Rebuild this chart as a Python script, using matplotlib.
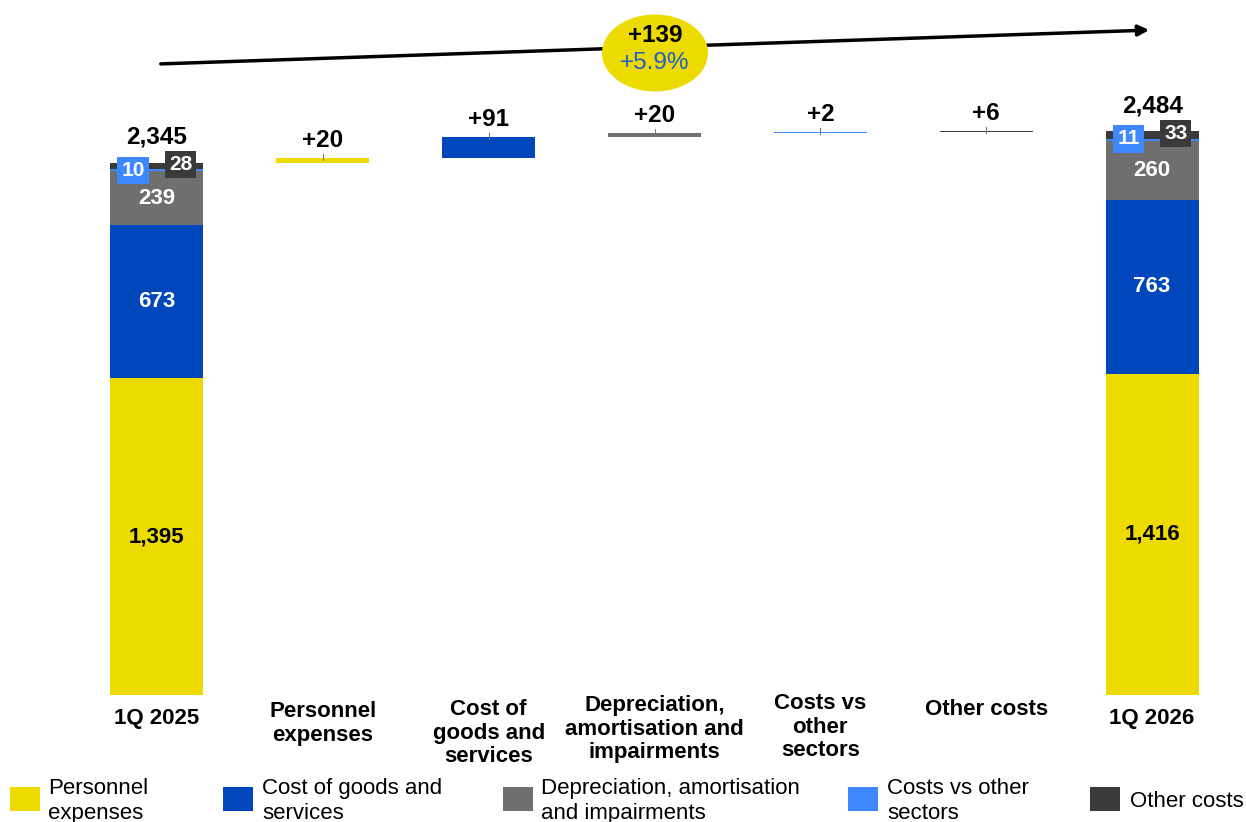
import matplotlib
matplotlib.use('Agg')
import matplotlib.pyplot as plt
from matplotlib.patches import Ellipse, Rectangle, FancyArrowPatch
from matplotlib import transforms

plt.rcParams['font.family'] = ['Liberation Sans', 'DejaVu Sans']

# ---------------- data ----------------
legend_labels = ['Personnel\nexpenses', 'Cost of goods and\nservices',
                 'Depreciation, amortisation\nand impairments', 'Costs vs other\nsectors',
                 'Other costs']
x_labels = ['1Q 2025', 'Personnel\nexpenses', 'Cost of\ngoods and\nservices',
            'Depreciation,\namortisation and\nimpairments', 'Costs vs\nother\nsectors',
            'Other costs', '1Q 2026']
q2025 = [1395, 673, 239, 10, 28]
q2026 = [1416, 763, 260, 11, 33]
deltas = [20, 91, 20, 2, 6]
total_2025 = 2345
total_2026 = 2484
total_change = 139
pct_change = 5.9

# ---------------- style ----------------
colors = ['#EDDB00', '#0047BB', '#6F6F6F', '#3D87FF', '#3A3A3A']
inner_text_colors = ['black', 'white', 'white']
W, H = 1246, 822


def fx(px):
    return px / W


def fy(py):
    return 1 - py / H


fig = plt.figure(figsize=(W / 100, H / 100), dpi=100)
ax = fig.add_axes([fx(74), fy(695), 1161 / W, (695 - 82) / H])
ax.set_xlim(-0.5, 6.5)
ax.set_ylim(0, 2700)
ax.axis('off')

bw = 0.56


def stacked(xpos, vals, total_label):
    bottom = 0
    for i, v in enumerate(vals):
        ax.bar(xpos, v, bottom=bottom, width=bw, color=colors[i], linewidth=0)
        if i < 3:
            ax.text(xpos, bottom + v / 2, f'{v:,}', ha='center', va='center',
                    fontsize=16, fontweight='bold', color=inner_text_colors[i])
        bottom += v
    top = bottom
    # small boxed labels for thin segments
    ax.annotate(f'{vals[3]}', xy=(xpos, top), xytext=(-17, -5.5), textcoords='offset points',
                ha='center', va='center', fontsize=15, fontweight='bold', color='white',
                bbox=dict(boxstyle='square,pad=0.2', fc=colors[3], ec='none'))
    ax.annotate(f'{vals[4]}', xy=(xpos, top), xytext=(17, -1.5), textcoords='offset points',
                ha='center', va='center', fontsize=15, fontweight='bold', color='white',
                bbox=dict(boxstyle='square,pad=0.2', fc=colors[4], ec='none'))
    ax.annotate(f'{total_label:,}', xy=(xpos, top), xytext=(0, 10), textcoords='offset points',
                ha='center', va='bottom', fontsize=17.5, fontweight='bold', color='black')


stacked(0, q2025, total_2025)
stacked(6, q2026, total_2026)

cum = total_2025
for i, d in enumerate(deltas):
    xpos = i + 1
    ax.bar(xpos, d, bottom=cum, width=bw, color=colors[i], linewidth=0,
           edgecolor=colors[i])
    top = cum + d
    ax.plot([xpos, xpos], [top - 8, top + 18], color='#777777', lw=0.8)
    ax.annotate(f'+{d}', xy=(xpos, top), xytext=(0, 4.5), textcoords='offset points',
                ha='center', va='bottom', fontsize=17.5, fontweight='bold', color='black')
    cum = top

# category labels
label_tops = [708, 701, 699, 695, 693, 699, 708]
tr = transforms.blended_transform_factory(ax.transData, fig.transFigure)
for i, lab in enumerate(x_labels):
    ax.text(i, fy(label_tops[i]), lab, transform=tr, ha='center', va='top',
            fontsize=16, fontweight='bold', linespacing=1.17, clip_on=False)

# growth arrow + bubble
arrow = FancyArrowPatch((fx(158), fy(64)), (fx(1152), fy(30)), transform=fig.transFigure,
                        arrowstyle='-|>', mutation_scale=16, lw=2.5, color='black')
fig.add_artist(arrow)
ell = Ellipse((fx(655), fy(53)), width=106 / W, height=77 / H, transform=fig.transFigure,
              facecolor=colors[0], edgecolor='none', zorder=5)
fig.add_artist(ell)
fig.text(fx(655), fy(35), f'+{total_change}', ha='center', va='center', fontsize=17.5,
         fontweight='bold', color='black', zorder=6)
fig.text(fx(655), fy(63), f'+{pct_change}%', ha='center', va='center', fontsize=17.5,
         color='#1F5FC8', zorder=6)

# legend
patch_x = [10, 223, 503, 848, 1090]
text_x = [48, 262, 541, 887, 1130]
for i, lab in enumerate(legend_labels):
    fig.add_artist(Rectangle((fx(patch_x[i]), fy(811)), 30 / W, 24 / H,
                             transform=fig.transFigure, facecolor=colors[i], edgecolor='none'))
    fig.text(fx(text_x[i]), fy(801), lab, ha='left', va='center', fontsize=16,
             linespacing=1.2, color='black')

fig.savefig('out.png', dpi=100)
